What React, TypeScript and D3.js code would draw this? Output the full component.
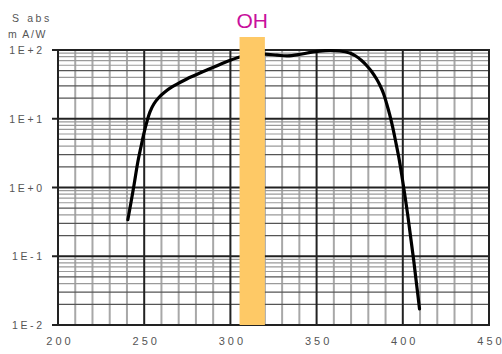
import * as d3 from "d3";
import { FC, useEffect, useRef } from "react";

// wavelength (nm) and responsivity S abs (mA/W)
const WAVELENGTH: number[] = [
  240.5, 242.3, 244, 246.3, 248.1, 249.8, 251.6, 253.3, 255.6, 258.5, 262,
  266.1, 270.7, 274.7, 282.3, 289.8, 297.3, 305.5, 312, 320, 327, 333, 340,
  348, 355, 363.4, 369.2, 372.7, 376.1, 379, 381.9, 384.8, 387.1, 388.9, 390.6,
  392.4, 394.1, 395.8, 397.6, 399.3, 401, 402.8, 404.5, 406.3, 408, 409.7,
];
const SABS: number[] = [
  0.34, 0.6, 1.05, 2.35, 3.88, 6.1, 9.1, 12.5, 16.4, 20.4, 24.5, 29, 33.7,
  37.9, 46.2, 55.6, 66.9, 79, 85, 87, 84, 82, 86, 94, 98, 96.7, 90.4, 81.8,
  70.3, 59.5, 48.7, 37.8, 29.4, 22.9, 16.7, 11.5, 7.6, 4.74, 2.82, 1.57, 0.83,
  0.41, 0.194, 0.088, 0.039, 0.0171,
];
const X_TICKS: number[] = [200, 250, 300, 350, 400, 450];
const Y_TICKS: number[] = [1e-2, 1e-1, 1, 10, 100];
const Y_LABELS: string[] = ["1E-2", "1E-1", "1E+0", "1E+1", "1E+2"];
const BAND: number[] = [305.3, 320];
const BAND_LABEL = "OH";

const W = 502;
const H = 354;
const M = { left: 58, right: 13, top: 50, bottom: 29 };
const FONT = "Liberation Sans, Arial, sans-serif";

// spaced-out label without trailing letter spacing
const spaced = (
  sel: d3.Selection<SVGTextElement, any, any, any>,
  text: string,
  gap: number
) => {
  text.split("").forEach((ch, i) => {
    sel
      .append("tspan")
      .attr("dx", i === 0 ? 0 : gap)
      .text(ch);
  });
};

const App: FC = () => {
  const ref = useRef<SVGSVGElement | null>(null);

  useEffect(() => {
    if (!ref.current) return;
    const svg = d3.select(ref.current);
    svg.selectAll("*").remove();

    const x = d3.scaleLinear().domain([200, 450]).range([M.left, W - M.right]);
    const y = d3.scaleLog().domain([1e-2, 1e2]).range([H - M.bottom, M.top]);
    const [x0, x1] = x.range();
    const [y0, y1] = y.range();

    const grid = svg.append("g");
    // vertical minor lines every 10 nm
    grid
      .selectAll()
      .data(d3.range(210, 450, 10).filter((v) => v % 50 !== 0))
      .enter()
      .append("line")
      .attr("x1", (d) => x(d))
      .attr("x2", (d) => x(d))
      .attr("y1", y1)
      .attr("y2", y0)
      .attr("stroke", "#a8a8a8")
      .attr("stroke-width", 2);

    // horizontal minor lines 2..9 of each decade
    const minors: number[] = [];
    for (let e = -2; e < 2; e++)
      for (let k = 2; k <= 9; k++) minors.push(k * Math.pow(10, e));
    grid
      .selectAll()
      .data(minors)
      .enter()
      .append("line")
      .attr("x1", x0)
      .attr("x2", x1)
      .attr("y1", (d) => y(d))
      .attr("y2", (d) => y(d))
      .attr("stroke", (d) => {
        const k = Math.round(d / Math.pow(10, Math.floor(Math.log10(d) + 1e-9)));
        return k === 2 || k === 3 || k === 5 ? "#555" : "#9a9a9a";
      })
      .attr("stroke-width", 1.2);

    // major lines
    grid
      .selectAll()
      .data([250, 300, 350, 400])
      .enter()
      .append("line")
      .attr("x1", (d) => x(d))
      .attr("x2", (d) => x(d))
      .attr("y1", y1)
      .attr("y2", y0)
      .attr("stroke", "#222")
      .attr("stroke-width", 2);
    grid
      .selectAll()
      .data(Y_TICKS)
      .enter()
      .append("line")
      .attr("x1", x0 - 6)
      .attr("x2", x1)
      .attr("y1", (d) => y(d))
      .attr("y2", (d) => y(d))
      .attr("stroke", "#222")
      .attr("stroke-width", 2);

    svg
      .append("rect")
      .attr("x", x0)
      .attr("y", y1)
      .attr("width", x1 - x0)
      .attr("height", y0 - y1)
      .attr("fill", "none")
      .attr("stroke", "#222")
      .attr("stroke-width", 2);

    const line = d3
      .line<number>()
      .x((_, i) => x(WAVELENGTH[i]))
      .y((d) => y(d))
      .curve(d3.curveCatmullRom.alpha(0.5));
    svg
      .append("path")
      .attr("d", line(SABS) || "")
      .attr("fill", "none")
      .attr("stroke", "#000")
      .attr("stroke-width", 3.2)
      .attr("stroke-linecap", "round")
      .attr("stroke-linejoin", "round");

    // OH band
    svg
      .append("rect")
      .attr("x", x(BAND[0]))
      .attr("y", 37)
      .attr("width", x(BAND[1]) - x(BAND[0]))
      .attr("height", y0 - 37)
      .attr("fill", "#fec966");
    svg
      .append("text")
      .attr("x", (x(BAND[0]) + x(BAND[1])) / 2)
      .attr("y", 28)
      .attr("text-anchor", "middle")
      .attr("font-family", FONT)
      .attr("font-size", 21)
      .attr("fill", "#c8109c")
      .text(BAND_LABEL);

    Y_TICKS.forEach((d, i) => {
      const t = svg
        .append("text")
        .attr("x", 42)
        .attr("y", y(d) + 4)
        .attr("text-anchor", "end")
        .attr("font-family", FONT)
        .attr("font-size", 10.5)
        .attr("fill", "#555");
      spaced(t, Y_LABELS[i], 2.6);
    });

    X_TICKS.forEach((d) => {
      const t = svg
        .append("text")
        .attr("x", x(d) + 0.5)
        .attr("y", 345)
        .attr("text-anchor", "middle")
        .attr("font-family", FONT)
        .attr("font-size", 11)
        .attr("fill", "#555");
      spaced(t, String(d), 3);
    });

    const t1 = svg
      .append("text")
      .attr("x", 12)
      .attr("y", 22)
      .attr("font-family", FONT)
      .attr("font-size", 10.5)
      .attr("fill", "#555");
    spaced(t1, "S abs", 2.6);
    const t2 = svg
      .append("text")
      .attr("x", 8)
      .attr("y", 38)
      .attr("font-family", FONT)
      .attr("font-size", 10.5)
      .attr("fill", "#555");
    spaced(t2, "m A/W", 1.6);
  }, []);

  return (
    <svg
      ref={ref}
      width={W}
      height={H}
      style={{ position: "absolute", left: 0, top: 0, background: "#fff" }}
    />
  );
};

export default App;
